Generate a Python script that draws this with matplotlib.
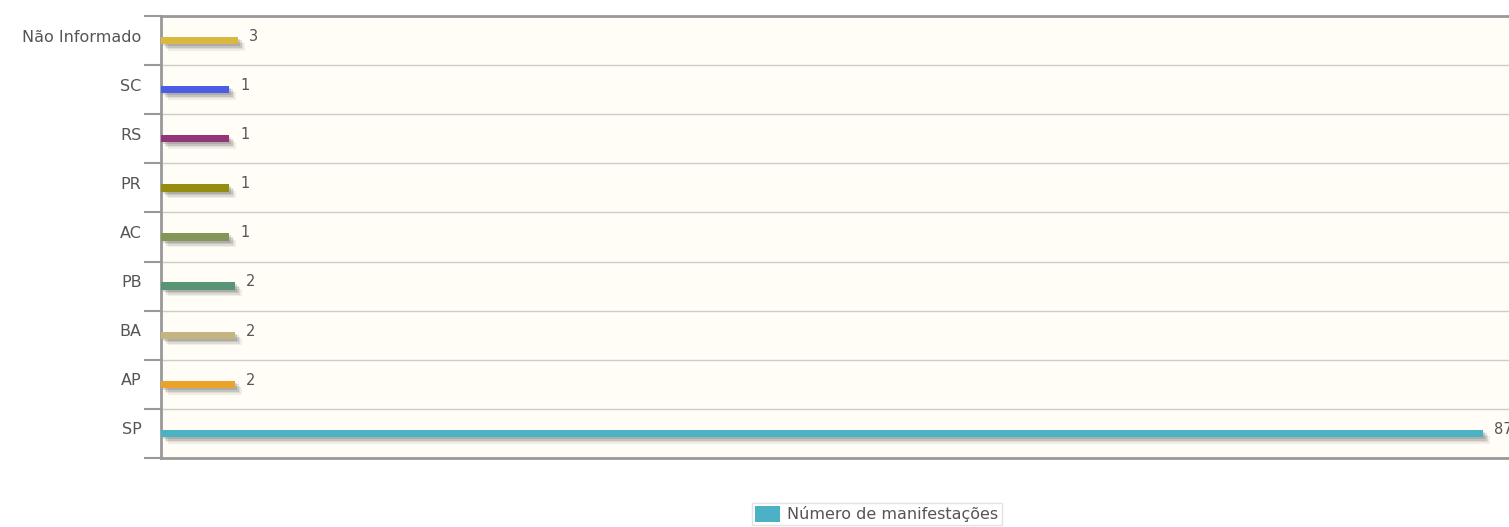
import numpy as np
import matplotlib
matplotlib.use("Agg")
import matplotlib.pyplot as plt
import matplotlib.transforms as mtransforms
from matplotlib.patches import Patch

plt.rcParams["font.family"] = ["DejaVu Sans"]

categories = ["Não Informado", "SC", "RS", "PR", "AC", "PB", "BA", "AP", "SP"]
values = [3, 1, 1, 1, 1, 2, 2, 2, 87]
colors = ["#d8b83f", "#4b5de4", "#953579", "#958c12", "#839557",
          "#579575", "#c5b47f", "#eaa228", "#4bb2c5"]
series_name = "Número de manifestações"

W, H = 1509, 527
fig = plt.figure(figsize=(W / 100, H / 100), dpi=100)
fig.patch.set_facecolor("white")

left_px, top_px, bottom_px, right_px = 161, 16, 458, 1519
ax = fig.add_axes([left_px / W, 1 - bottom_px / H,
                   (right_px - left_px) / W, (bottom_px - top_px) / H])
ax.set_facecolor("#fffdf6")

# display scale imitating the source renderer (short bars get a minimum visible length)
def fwd(v):
    v = np.asarray(v, dtype=float)
    return 4.6 * (1 - np.exp(-3 * np.clip(v, 0, None))) + 0.13 * v + 0.0094 * v ** 2

_grid = np.linspace(0, 200, 20001)
def inv(y):
    return np.interp(y, fwd(_grid), _grid)

ax.set_xscale("function", functions=(fwd, inv))

n = len(categories)
ypos = np.arange(n)[::-1]  # first category at top

# shadows
for dx, dy, a in [(2, -2, 0.12), (3.5, -3.5, 0.10), (5, -5, 0.08), (6.5, -6.5, 0.06)]:
    tr = ax.transData + mtransforms.ScaledTranslation(dx / 100, dy / 100, fig.dpi_scale_trans)
    ax.barh(ypos, values, height=0.15, color="#000000", alpha=a, transform=tr,
            linewidth=0, zorder=2)

ax.barh(ypos, values, height=0.15, color=colors, linewidth=0, zorder=3,
        label=series_name)

xmax_f = fwd(87) * (right_px - left_px) / (1483 - left_px)
ax.set_xlim(0, inv(xmax_f))
ax.set_ylim(-0.5, n - 0.5)

# value labels
for yv, v in zip(ypos, values):
    ax.annotate(str(v), xy=(v, yv), xytext=(8, 3), textcoords="offset points",
                ha="left", va="center", fontsize=10.5, color="#555555", zorder=4)

# grid lines between categories
ax.set_yticks(np.arange(-0.5, n, 1.0), minor=False)
ax.set_yticklabels([])
ax.yaxis.grid(True, color="#cccccc", linewidth=1)
ax.tick_params(axis="y", which="major", length=12, width=1.5, color="#999999", direction="out")
ax.set_yticks(ypos, minor=True)
ax.set_yticklabels(categories, minor=True)
ax.tick_params(axis="y", which="minor", length=0, pad=14, labelsize=11.5, labelcolor="#555555")
up = mtransforms.ScaledTranslation(0, 5 / 100, fig.dpi_scale_trans)
for lbl in ax.get_yticklabels(minor=True):
    lbl.set_transform(lbl.get_transform() + up)
ax.set_xticks([])
ax.xaxis.set_minor_locator(matplotlib.ticker.NullLocator())
ax.set_axisbelow(True)

for s in ["top", "bottom", "left"]:
    ax.spines[s].set_color("#999999")
    ax.spines[s].set_linewidth(2)
ax.spines["right"].set_visible(False)

handles = [Patch(facecolor="#4bb2c5", edgecolor="none", label=series_name)]
fig.legend(handles=handles, loc="center", bbox_to_anchor=(877 / W, 1 - 514 / H),
           frameon=True, fontsize=11.5, handlelength=1.55, handleheight=1.2,
           handletextpad=0.45, borderpad=0.2, borderaxespad=0, fancybox=False,
           edgecolor="#dddddd", labelcolor="#555555")

fig.savefig("out.png", dpi=100, facecolor="white")
